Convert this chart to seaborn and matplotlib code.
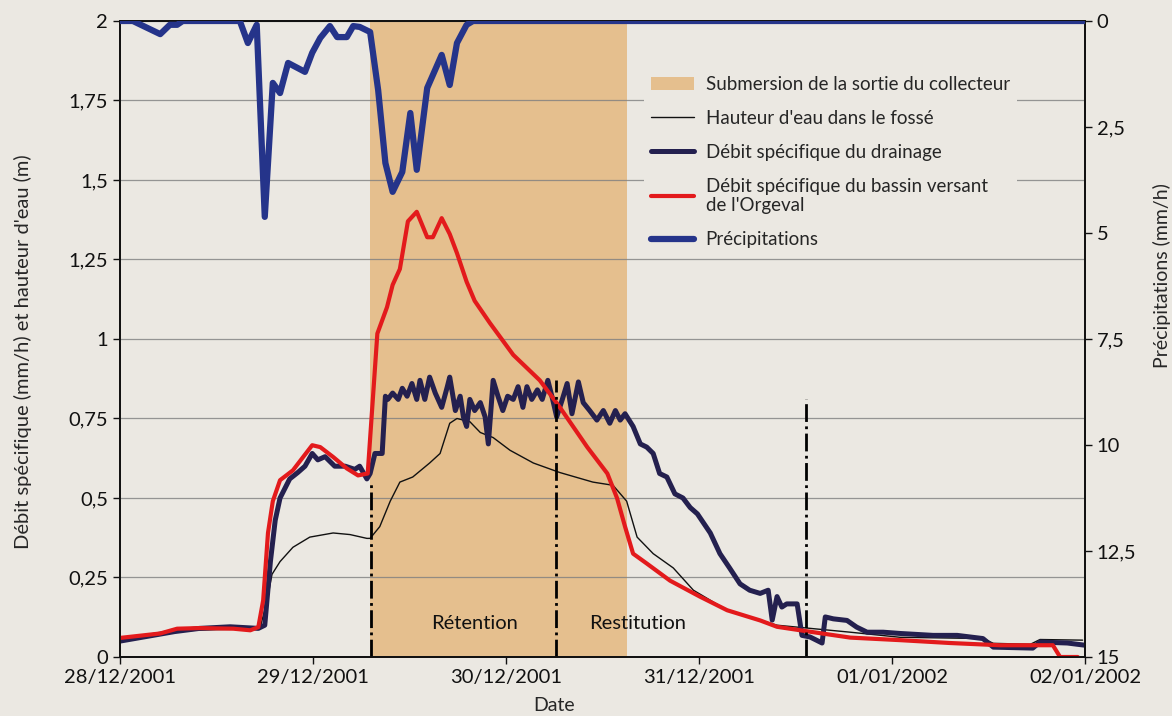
import pandas as pd
import seaborn as sns
import matplotlib.pyplot as plt
import matplotlib.dates as mdates
from matplotlib.ticker import FuncFormatter, MultipleLocator
from matplotlib.patches import Patch
from matplotlib.lines import Line2D

# hours since 28/12/2001 00:00
t0 = pd.Timestamp('2001-12-28')

precip_h = [0, 1.6, 5.0, 6.2, 7.1, 7.8, 14.9, 15.9, 17.0, 18.0, 19.0, 19.9, 20.9, 23.0, 23.9,
            24.9, 26.1, 27.0, 28.2, 29.0, 29.8, 31.1, 32.1, 33.0, 33.9, 35.1, 36.1, 36.9, 38.2,
            40.0, 41.0, 41.9, 43.1, 43.9, 120]
precip_mm = [0, 0, 0.31, 0.09, 0.09, 0, 0, 0.52, 0.09, 4.62, 1.46, 1.70, 0.99, 1.20, 0.75,
             0.40, 0.12, 0.38, 0.38, 0.12, 0.14, 0.26, 1.63, 3.35, 4.03, 3.56, 2.17, 3.51, 1.58,
             0.80, 1.51, 0.52, 0.09, 0, 0]

red_h = [0, 5.0, 7.1, 9.9, 14.1, 16.2, 17.2, 17.8, 18.4, 19.0, 19.9, 21.5, 23.9, 24.9, 26.5,
         28.2, 29.6, 30.8, 32.0, 33.2, 33.9, 34.8, 35.8, 36.9, 38.2, 38.9, 40.0, 41.0, 41.9,
         43.1, 44.1, 46.0, 48.9, 52.2, 54.7, 58.1, 60.6, 61.8, 62.8, 63.8, 65.5, 68.4, 72.1,
         75.5, 79.6, 81.7, 84.6, 90.8, 97.0, 103.2, 109.4, 116.0, 116.9, 119.1]
red_v = [0.06, 0.074, 0.089, 0.091, 0.089, 0.084, 0.094, 0.178, 0.39, 0.49, 0.556, 0.587,
         0.666, 0.66, 0.629, 0.593, 0.571, 0.577, 1.017, 1.10, 1.17, 1.22, 1.37, 1.40, 1.32,
         1.32, 1.38, 1.33, 1.27, 1.18, 1.12, 1.05, 0.95, 0.87, 0.785, 0.66, 0.577, 0.50, 0.41,
         0.325, 0.294, 0.24, 0.19, 0.147, 0.115, 0.095, 0.084, 0.061, 0.053, 0.044, 0.037,
         0.037, 0.0, 0.0]

ditch_h = [0, 6.8, 9.9, 13.7, 17.4, 18.3, 18.9, 19.9, 21.5, 23.6, 26.5, 28.6, 30.7, 31.1, 32.3,
           33.6, 34.8, 36.4, 38.5, 39.8, 41.0, 41.9, 43.5, 44.8, 46.4, 48.5, 51.4, 54.7, 58.8,
           61.3, 63.0, 64.3, 66.3, 68.8, 71.3, 75.5, 81.7, 90.8, 97.0, 107.3, 108.6, 113.2,
           114.4, 119.7]
ditch_v = [0.055, 0.08, 0.085, 0.087, 0.09, 0.178, 0.26, 0.30, 0.345, 0.377, 0.39, 0.385,
           0.373, 0.373, 0.41, 0.49, 0.55, 0.566, 0.61, 0.64, 0.735, 0.75, 0.74, 0.706, 0.69,
           0.65, 0.61, 0.58, 0.55, 0.54, 0.49, 0.377, 0.325, 0.28, 0.21, 0.147, 0.10, 0.078,
           0.062, 0.058, 0.043, 0.04, 0.055, 0.053]

drain_h = [0, 6.8, 9.9, 13.7, 17.2, 18.0, 18.7, 19.3, 19.9, 21.1,
           22.1, 23.0, 23.9, 24.6, 25.5, 26.7, 28.0, 29.2, 29.8, 30.7,
           31.1, 31.7, 32.6, 33.0, 33.3, 33.9, 34.6, 35.1, 35.7, 36.3,
           36.9, 37.3, 37.9, 38.5, 39.2, 40.0, 40.7, 41.0, 41.7, 42.3,
           42.7, 43.1, 43.5, 44.1, 44.8, 45.4, 45.8, 46.4, 47.0, 47.6,
           48.2, 48.9, 49.5, 50.1, 50.6, 51.2, 51.9, 52.5, 53.2, 53.8,
           54.3, 55.0, 55.6, 56.2, 57.0, 57.6, 58.4, 59.3, 60.1, 60.9,
           61.6, 62.2, 62.8, 63.8, 64.7, 65.5, 66.3, 67.1, 68.0, 69.0,
           70.0, 70.9, 71.8, 73.4, 74.6, 75.8, 77.1, 78.3, 79.6, 80.6,
           81.1, 81.7, 82.3, 82.9, 84.2, 84.8, 85.8, 87.3, 87.7, 88.7,
           90.4, 91.6, 92.9, 94.9, 97.0, 101.1, 104.1, 107.3, 108.6, 113.5,
           114.4, 117.8, 120]
drain_v = [0.05, 0.08, 0.09, 0.095, 0.09, 0.1, 0.3, 0.43, 0.5, 0.56,
           0.58, 0.6, 0.64, 0.62, 0.63, 0.6, 0.6, 0.59, 0.6, 0.56,
           0.577, 0.64, 0.64, 0.82, 0.81, 0.83, 0.81, 0.845, 0.82, 0.86,
           0.81, 0.87, 0.81, 0.88, 0.83, 0.785, 0.85, 0.88, 0.775, 0.82,
           0.755, 0.725, 0.81, 0.775, 0.80, 0.755, 0.67, 0.87, 0.82, 0.775,
           0.82, 0.81, 0.85, 0.785, 0.85, 0.81, 0.84, 0.81, 0.87, 0.81,
           0.755, 0.81, 0.86, 0.765, 0.865, 0.80, 0.775, 0.745, 0.775, 0.735,
           0.775, 0.745, 0.765, 0.725, 0.67, 0.66, 0.64, 0.577, 0.566, 0.513,
           0.50, 0.47, 0.45, 0.39, 0.325, 0.28, 0.23, 0.21, 0.20, 0.21,
           0.116, 0.19, 0.157, 0.167, 0.167, 0.068, 0.063, 0.044, 0.126, 0.12,
           0.115, 0.094, 0.078, 0.078, 0.074, 0.068, 0.068, 0.058, 0.031, 0.028,
           0.047, 0.044, 0.037]

# submersion period and phase markers (hours)
submersion = (31.1, 63.1)
phase_h = [31.2, 54.2, 85.3]
phase_top = [0.55, 0.87, 0.81]
phase_labels = ['Rétention', 'Restitution']
phase_label_h = [44.1, 64.4]

BG = '#ebe8e2'
SHADE = '#e5bf8e'
C_DRAIN = '#24204f'
C_RED = '#e31a1c'
C_RAIN = '#25348a'
FS = 14.5


def to_time(hours):
    return t0 + pd.to_timedelta(hours, unit='h')


def fr(v, pos):
    return f"{v:g}".replace('.', ',')


sns.set_style("ticks")
plt.rcParams['font.family'] = ['Lato', 'DejaVu Sans']
plt.rcParams['font.size'] = FS

fig = plt.figure(figsize=(11.72, 7.16), dpi=100, facecolor=BG)
ax = fig.add_axes([0.1024, 0.0824, 0.8234, 0.8883])
ax.set_facecolor(BG)
ax.set_axisbelow(True)

ax.axvspan(to_time(submersion[0]), to_time(submersion[1]), color=SHADE, lw=0, zorder=0.2)

sns.lineplot(x=to_time(ditch_h), y=ditch_v, ax=ax, color='#111111', lw=1.0, zorder=3)
sns.lineplot(x=to_time(drain_h), y=drain_v, ax=ax, color=C_DRAIN, lw=3.6, zorder=4)
sns.lineplot(x=to_time(red_h), y=red_v, ax=ax, color=C_RED, lw=3.0, zorder=5)

ax.vlines(to_time(phase_h), 0, phase_top, colors='black', linestyles='-.', lw=2, zorder=6)
for lab, h in zip(phase_labels, phase_label_h):
    ax.text(to_time(h), 0.105, lab, ha='center', va='center', fontsize=FS, color='#111111')

ax.set_xlim(to_time(0), to_time(120))
ax.set_ylim(0, 2)
ax.yaxis.set_major_locator(MultipleLocator(0.25))
ax.yaxis.set_major_formatter(FuncFormatter(fr))
ax.xaxis.set_major_locator(mdates.DayLocator())
ax.xaxis.set_major_formatter(mdates.DateFormatter('%d/%m/%Y'))
ax.grid(axis='y', color='#7f7f7f', lw=0.9, alpha=0.8)
ax.tick_params(axis='both', direction='out', length=5, width=1, colors='#111111', labelsize=FS)
for s in ax.spines.values():
    s.set_color('#111111')
    s.set_linewidth(1.3)

ax.set_ylabel("Débit spécifique (mm/h) et hauteur d'eau (m)", fontsize=14.5)
ax.yaxis.set_label_coords(-0.091, 0.48)
ax.set_xlabel("Date", fontsize=14)
ax.xaxis.set_label_coords(0.45, -0.063)

ax2 = ax.twinx()
sns.lineplot(x=to_time(precip_h), y=precip_mm, ax=ax2, color=C_RAIN, lw=4.5, zorder=5)
ax2.set_ylim(15, 0)
ax2.yaxis.set_major_locator(MultipleLocator(2.5))
ax2.yaxis.set_major_formatter(FuncFormatter(fr))
ax2.tick_params(axis='y', direction='out', length=5, width=1, colors='#111111', labelsize=FS)
ax2.set_ylabel("Précipitations (mm/h)", fontsize=14)
ax2.yaxis.set_label_coords(1.0705, 0.6)
for s in ax2.spines.values():
    s.set_color('#111111')
    s.set_linewidth(1.3)

handles = [
    Patch(facecolor=SHADE, edgecolor='none'),
    Line2D([], [], color='#111111', lw=1.0),
    Line2D([], [], color=C_DRAIN, lw=3.6),
    Line2D([], [], color=C_RED, lw=3.0),
    Line2D([], [], color=C_RAIN, lw=4.5),
]
labels = [
    "Submersion de la sortie du collecteur",
    "Hauteur d'eau dans le fossé",
    "Débit spécifique du drainage",
    "Débit spécifique du bassin versant\nde l'Orgeval",
    "Précipitations",
]
leg = ax2.legend(handles, labels, loc='upper left', bbox_to_anchor=(0.533, 0.94),
                 frameon=True, facecolor=BG, edgecolor='none', framealpha=1,
                 fontsize=13.5, handlelength=2.3, labelspacing=0.9, handletextpad=0.6,
                 borderpad=0.4)
leg.get_frame().set_boxstyle('square', pad=0)

fig.savefig('out.png', dpi=100, facecolor=BG)
